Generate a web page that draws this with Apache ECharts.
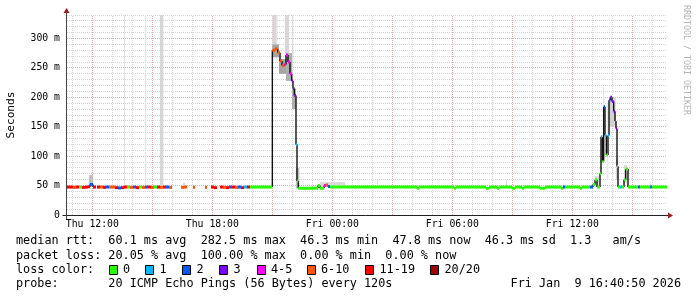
<!DOCTYPE html>
<html><head><meta charset="utf-8">
<script src="https://cdn.jsdelivr.net/npm/echarts@6/dist/echarts.min.js"></script>
<style>html,body{margin:0;padding:0;background:#fff}#c{width:697px;height:297px}</style>
</head><body><div id="c"></div>
<script>
// time in minutes since Thu 00:00
const START = 644, END = 2444;
const yMax = 340;
const xLabelTimes = [720, 1080, 1440, 1800, 2160];
const xLabelText = ['Thu 12:00', 'Thu 18:00', 'Fri 00:00', 'Fri 06:00', 'Fri 12:00'];

const times = [
  644,653,662,671,680,689,698,707,713,722,
  731,734,743,752,761,770,779,788,797,806,
  815,824,833,842,851,860,869,878,887,896,
  905,914,923,932,941,950,959,986,995,1004,
  1022,1028,1058,1064,1076,1085,1094,1103,1112,1121,
  1130,1139,1148,1157,1166,1175,1184,1193,1229,1260,
  1268,1276,1283,1289,1296,1301,1307,1313,1318,1322,
  1326,1331,1334,1338,1373,1397,1403,1409,1415,1421,
  1427,1433,1694,1700,1805,1811,1901,1910,1934,1940,
  1979,1988,2009,2015,2063,2078,2126,2132,2138,2183,
  2189,2213,2222,2228,2234,2243,2246,2250,2254,2258,
  2262,2267,2270,2274,2279,2284,2288,2291,2294,2297,
  2303,2309,2315,2320,2327,2357,2363,2393,2399
];
// median rtt in ms
const median = [
  47.5,47.5,47,47.5,47.5,47,47.5,48,52,47.5,
  null,47.5,47.5,47,47.5,47.5,47.5,46.5,46,46.5,
  47.5,47.5,47,47.5,46.5,47.5,47,47.5,47.5,47,
  47.5,47.5,47,47.5,47.5,47,null,47,47.5,null,
  47,null,47,null,47.5,46.5,null,47.5,47,46.5,
  47.5,47.5,47,47.5,46.5,47.5,47.5,47.5,47.5,280,
  282.5,276,262,254,256,272,260,240,228,215,
  203,120,58,45.5,45.5,50,45.5,45.5,50,51,
  48.5,47.5,45.5,47.5,45.5,47.5,45.5,47.5,45.5,47.5,
  45.5,47.5,45.5,47.5,45.5,47.5,45.5,47.5,47.5,45.5,
  47.5,47.5,52,60,47.5,70,133,91,184,135,
  102,135,195,200,193,176,160,147,83,47.5,
  47.5,47.5,60,78,47.5,47.5,47.5,47.5,47.5
];
// loss class index (0:"0",1:"1",2:"2",3:"3",4:"4-5",5:"6-10",6:"11-19",7:"20/20")
const loss = [
  6,6,5,6,0,6,6,6,2,6,
  null,6,5,6,2,5,5,6,2,6,
  6,0,5,2,6,0,5,2,6,5,
  0,6,5,6,2,5,null,5,5,null,
  5,null,5,null,6,6,null,6,5,6,
  2,6,5,2,6,1,6,0,0,5,
  5,5,5,5,4,4,4,4,3,3,
  3,1,0,0,0,0,0,0,4,5,
  2,0,0,0,0,0,0,0,0,0,
  0,0,0,0,0,0,0,2,0,0,
  0,2,0,0,0,0,1,0,2,1,
  0,1,2,3,3,3,2,3,0,0,
  1,0,0,0,0,2,0,2,0
];
const lossLabels = ['0', '1', '2', '3', '4-5', '6-10', '11-19', '20/20'];
const lossColors = ['#26ff00', '#00b8ff', '#0059ff', '#7e00ff', '#ff00ff', '#ff5500', '#ff0000', '#a10000'];

// smoke (ping spread)
const smokeStart   = [815, 878, 923, 1260, 1272, 1298, 1320, 710, 992, 1079, 1260, 1280, 1301, 1319, 1331, 1403, 1574, 1961, 2228, 2252, 2263, 2270, 2291, 2315, 2393];
const smokeEnd     = [818, 881, 933, 1271, 1275, 1310, 1323, 722, 998, 1085, 1280, 1301, 1319, 1331, 1341, 1478, 1577, 1964, 2240, 2256, 2268, 2290, 2298, 2324, 2396];
const smokeLo      = [50, 50, 48, 283, 280, 275, 225, 48, 48, 48, 268, 240, 228, 180, 45, 48, 48, 48, 47, 100, 60, 150, 60, 55, 48];
const smokeHi      = [400, 400, 400, 400, 400, 400, 400, 68, 55, 53, 290, 265, 275, 215, 80, 56, 60, 60, 66, 217, 190, 200, 95, 85, 54];
const smokeDensity = [0.15, 0.15, 0.22, 0.22, 0.22, 0.22, 0.22, 0.35, 0.2, 0.2, 0.5, 0.5, 0.45, 0.45, 0.35, 0.2, 0.2, 0.2, 0.2, 0.15, 0.12, 0.25, 0.25, 0.2, 0.2];

const statRtt  = 'median rtt:  60.1 ms avg  282.5 ms max  46.3 ms min  47.8 ms now  46.3 ms sd  1.3   am/s';
const statLoss = 'packet loss: 20.05 % avg  100.00 % max  0.00 % min  0.00 % now';
const probeText = 'probe:       20 ICMP Echo Pings (56 Bytes) every 120s';
const stampText = 'Fri Jan  9 16:40:50 2026';

const MONO = '"DejaVu Sans Mono", monospace';

// grid positions (axis ticks)
const vGrid = []; for (let m = 660; m <= 2400; m += 60) vGrid.push(m);
const hGrid = []; for (let v = 10; v <= 340; v += 10) hGrid.push(v);
const gridData = vGrid.map(m => [0, m]).concat(hGrid.map(v => [1, v]));

const chart = echarts.init(document.getElementById('c'), null, {renderer: 'canvas', width: 697, height: 297});

function gray(d) { const g = Math.round(255 - d * 180); return 'rgb(' + g + ',' + g + ',' + g + ')'; }

const option = {
  animation: false,
  backgroundColor: '#ffffff',
  grid: {left: 67, top: 15, width: 600, height: 200, containLabel: false, outerBoundsMode: 'none'},
  xAxis: {type: 'value', min: START, max: END, axisLine: {show: false}, axisTick: {show: false}, axisLabel: {show: false}, splitLine: {show: false}},
  yAxis: {
    type: 'value', min: 0, max: yMax, interval: 50,
    axisLine: {show: false}, axisTick: {show: false}, splitLine: {show: false},
    axisLabel: {formatter: v => (v % 50 !== 0 || v > 300) ? '' : (v === 0 ? '0' : v + ' m'), fontFamily: MONO, fontSize: 9.8, color: '#000', margin: 7},
    name: 'Seconds', nameLocation: 'middle', nameGap: 50,
    nameTextStyle: {fontFamily: MONO, fontSize: 11.2, color: '#000'}
  },
  series: [
    { // grid lines
      type: 'custom', silent: true, clip: false, encode: {x: 1, y: 0},
      data: gridData,
      renderItem: (params, api) => {
        const kind = api.value(0), v = api.value(1);
        let x1, y1, x2, y2, major;
        if (kind === 0) {
          const a = api.coord([v, 0]), b = api.coord([v, yMax]);
          const x = Math.floor(a[0]) + 0.5; x1 = x; x2 = x; y1 = a[1]; y2 = b[1];
          major = (v % 180 === 0);
        } else {
          const a = api.coord([START, v]), b = api.coord([END, v]);
          const y = Math.floor(a[1]) + 0.5; y1 = y; y2 = y; x1 = a[0]; x2 = b[0];
          major = (v % 50 === 0);
        }
        return {type: 'line', shape: {x1, y1, x2, y2},
          style: {stroke: major ? '#eaa8a8' : '#d6d6d6', lineWidth: 1, lineDash: [1, 1]}};
      }
    },
    { // smoke
      type: 'custom', silent: true, clip: true, encode: {x: 0, y: 1},
      data: smokeStart.map((s, i) => [s, i]),
      renderItem: (params, api) => {
        const i = params.dataIndex;
        const a = api.coord([smokeStart[i], Math.min(smokeHi[i], yMax)]);
        const b = api.coord([smokeEnd[i], smokeLo[i]]);
        return {type: 'rect', shape: {x: a[0], y: a[1], width: Math.max(1, b[0] - a[0]), height: b[1] - a[1]},
          style: {fill: gray(smokeDensity[i])}};
      }
    },
    { // black connectors between median steps
      type: 'custom', silent: true, clip: true, encode: {x: 0, y: 1},
      data: times.map((t, i) => [t, i]),
      renderItem: (params, api) => {
        const i = params.dataIndex;
        if (i + 1 >= times.length || median[i] == null || median[i + 1] == null || median[i] === median[i + 1]) return null;
        const a = api.coord([times[i + 1], median[i]]);
        const b = api.coord([times[i + 1], median[i + 1]]);
        return {type: 'line', shape: {x1: a[0], y1: a[1], x2: b[0], y2: b[1]}, style: {stroke: '#111', lineWidth: 1.4}};
      }
    },
    { // colored median by loss
      type: 'custom', silent: true, clip: true, encode: {x: 0, y: 1},
      data: times.map((t, i) => [t, i]),
      renderItem: (params, api) => {
        const i = params.dataIndex;
        if (median[i] == null || loss[i] == null) return null;
        const tEnd = i + 1 < times.length ? times[i + 1] : END;
        const a = api.coord([times[i], median[i]]);
        const b = api.coord([tEnd, median[i]]);
        return {type: 'rect', shape: {x: a[0], y: a[1] - 1.5, width: Math.max(1, b[0] - a[0]), height: 3},
          style: {fill: lossColors[loss[i]]}};
      }
    },
    { // axes with arrows
      type: 'custom', silent: true, clip: false, encode: {x: 0, y: 1},
      data: [[START, 0]],
      renderItem: (params, api) => {
        const o = api.coord([START, 0]), e = api.coord([END, 0]), t = api.coord([START, yMax]);
        const ax = Math.floor(o[0]) - 0.5, ay = Math.floor(o[1]) + 0.5, ex = e[0] + 1, ty = t[1] - 2;
        return {type: 'group', children: [
          {type: 'line', shape: {x1: ax - 4, y1: ay, x2: ex, y2: ay}, style: {stroke: '#222', lineWidth: 1}},
          {type: 'line', shape: {x1: ax, y1: ay + 4, x2: ax, y2: ty}, style: {stroke: '#444', lineWidth: 1}},
          {type: 'polygon', shape: {points: [[ax - 3, ty], [ax + 3, ty], [ax, ty - 5]]}, style: {fill: '#9b1c1c'}},
          {type: 'polygon', shape: {points: [[ex, ay - 3], [ex, ay + 3], [ex + 5, ay]]}, style: {fill: '#9b1c1c'}}
        ]};
      }
    },
    { // x tick labels
      type: 'custom', silent: true, clip: false, encode: {x: 0, y: 1},
      data: xLabelTimes.map((t, i) => [t, i]),
      renderItem: (params, api) => {
        const i = params.dataIndex;
        const p = api.coord([xLabelTimes[i], 0]);
        return {type: 'text', x: p[0], y: p[1] + 9.5,
          style: {text: xLabelText[i], font: '9.8px ' + MONO, fill: '#000', align: 'center', verticalAlign: 'middle'}};
      }
    }
  ],
  graphic: (function () {
    const els = [];
    const f = '11.8px ' + MONO;
    els.push({type: 'text', x: 16, y: 241, style: {text: statRtt, font: f, fill: '#000', verticalAlign: 'middle'}});
    els.push({type: 'text', x: 16, y: 255.5, style: {text: statLoss, font: f, fill: '#000', verticalAlign: 'middle'}});
    els.push({type: 'text', x: 16, y: 270, style: {text: 'loss color:', font: f, fill: '#000', verticalAlign: 'middle'}});
    const boxX = [108.5, 145, 182, 219, 256.5, 306.5, 365, 430];
    lossLabels.forEach((lab, i) => {
      els.push({type: 'rect', shape: {x: Math.round(boxX[i]) + 0.5, y: 265.5, width: 8, height: 9},
        style: {fill: lossColors[i], stroke: '#000', lineWidth: 1}});
      els.push({type: 'text', x: boxX[i] + 14.5, y: 270, style: {text: lab, font: f, fill: '#000', verticalAlign: 'middle'}});
    });
    els.push({type: 'text', x: 16, y: 284, style: {text: probeText, font: f, fill: '#000', verticalAlign: 'middle'}});
    els.push({type: 'text', x: 681, y: 284, style: {text: stampText, font: f, fill: '#000', align: 'right', verticalAlign: 'middle'}});
    els.push({type: 'text', x: 686, y: 5, rotation: -Math.PI / 2,
      style: {text: 'RRDTOOL / TOBI OETIKER', font: '8.3px ' + MONO, fill: '#b4b4b4', align: 'left', verticalAlign: 'middle'}});
    return els;
  })()
};
chart.setOption(option);
</script>
</body></html>
